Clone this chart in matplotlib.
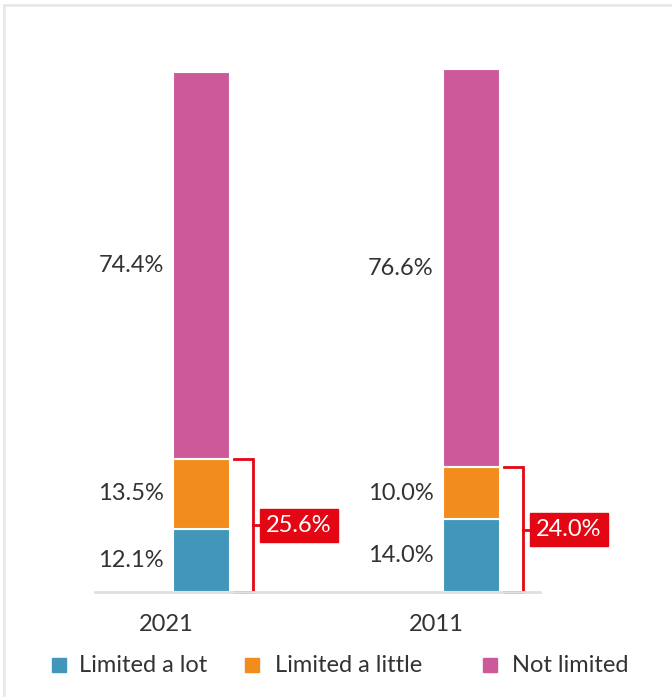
import matplotlib
matplotlib.use("Agg")
import matplotlib.pyplot as plt
from matplotlib.patches import Rectangle
from matplotlib.lines import Line2D

plt.rcParams['font.family'] = ['Lato', 'DejaVu Sans']

years = ["2021", "2011"]
limited_lot = [12.1, 14.0]
limited_little = [13.5, 10.0]
not_limited = [74.4, 76.6]
totals_limited = ["25.6%", "24.0%"]

series = [("Limited a lot", limited_lot, "#4196b9"),
          ("Limited a little", limited_little, "#f28c1c"),
          ("Not limited", not_limited, "#cc5a9b")]

fig = plt.figure(figsize=(6.72, 6.97), dpi=100)
ax = fig.add_axes([95/672, 1-592/697, 445/672, 520/697])
ax.set_xlim(-0.396, 1.252)
ax.set_ylim(0, 100)

x = list(range(len(years)))
width = 0.211
bottoms = [0.0]*len(years)
for name, vals, col in series:
    ax.bar(x, vals, width=width, bottom=bottoms, color=col, edgecolor="white",
           linewidth=1.5, clip_on=False, label=name)
    for i, v in enumerate(vals):
        ax.text(x[i] - width/2 - 0.036, bottoms[i] + v/2, f"{v:.1f}%",
                ha="right", va="center", fontsize=17, color="#333333")
    bottoms = [b + v for b, v in zip(bottoms, vals)]

red = "#e30613"
for i in range(len(years)):
    top = limited_lot[i] + limited_little[i]
    xl = x[i] + width/2 + 0.015
    xv = x[i] + 0.189
    ax.plot([xl, xv, xv, xl], [top, top, 0, 0], color=red, lw=2, clip_on=False,
            solid_joinstyle="miter")
    ax.plot([xv, xv + 0.03], [top/2, top/2], color=red, lw=2, clip_on=False)
    ax.text(x[i] + 0.222 + 0.016, top/2, totals_limited[i], ha="left", va="center",
            fontsize=17, color="white",
            bbox=dict(boxstyle="square,pad=0.25", fc=red, ec=red))

for s in ["top", "right", "left"]:
    ax.spines[s].set_visible(False)
ax.spines["bottom"].set_color("#e0e0e0")
ax.spines["bottom"].set_linewidth(2)
ax.set_yticks([])
ax.set_xticks([xi - 0.133 for xi in x])
ax.set_xticklabels(years, fontsize=17, color="#333333")
ax.tick_params(axis="x", length=0, pad=16)

# legend entries
leg_sq_x = [52, 245, 483]
leg_tx_x = [79, 275, 512]
leg_y = 665
for (name, _, col), sx, tx in zip(series, leg_sq_x, leg_tx_x):
    fig.add_artist(Rectangle((sx/672, 1-(leg_y+7)/697), 14/672, 14/697,
                             transform=fig.transFigure, color=col))
    fig.text(tx/672, 1-leg_y/697, name, ha="left", va="center", fontsize=17,
             color="#333333")

fig.add_artist(Line2D([4/672, 4/672], [0, 1-5/697], transform=fig.transFigure,
                      color="#e8e8e8", lw=2))
fig.add_artist(Line2D([4/672, 1], [1-5/697, 1-5/697], transform=fig.transFigure,
                      color="#e8e8e8", lw=2))

fig.savefig("out.png", dpi=100)
